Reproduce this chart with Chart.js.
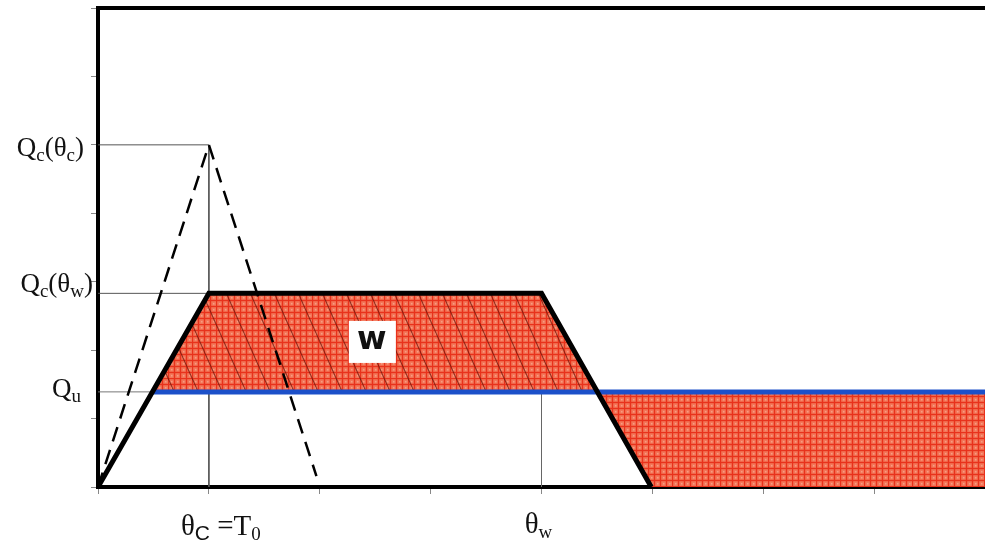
<!DOCTYPE html>
<html>
<head>
<meta charset="utf-8">
<script src="https://cdn.jsdelivr.net/npm/chart.js@4/dist/chart.umd.min.js"></script>
<style>
html,body{margin:0;padding:0;background:#fff;}
#wrap{width:985px;height:544px;}
</style>
</head>
<body>
<div id="wrap"><canvas id="c" width="985" height="544"></canvas></div>
<script>
// ---- data (axis units: x in periods, y in heat-load units) ----
const xRange = [0, 8];
const yRange = [0, 7];
const dashedX = [0, 1, 1.97];
const dashedY = [0, 5, 0.16];
const trapX = [0, 1, 4, 4.99];
const trapY = [0, 2.83, 2.83, 0];
const quLevel = 1.39;
const quX = [0.48, 8];
const upperFillX = [0.49, 1, 4, 4.5];
const upperFillY = [1.39, 2.83, 2.83, 1.39];
const lowerFillX = [4.5, 4.99, 8];
const lowerFillY = [1.39, 0, 0];
const guideA_X = [0, 1, 1];     const guideA_Y = [5, 5, 0];
const guideB_X = [0, 1];        const guideB_Y = [2.83, 2.83];
const guideC_X = [0, 0.48];     const guideC_Y = [1.39, 1.39];
const guideD_X = [4, 4];        const guideD_Y = [2.83, 0];
const yTickValues = [5, 2.83, 1.39];
const yTickLabels = [
  [['Q','m'],['c','s'],['(θ','m'],['c','s'],[')','m']],
  [['Q','m'],['c','s'],['(θ','m'],['w','s'],[')','m']],
  [['Q','m'],['u','s']]
];
const xTickValues = [1, 4];
const xTickLabels = [
  [['θ','xm'],['C','ss'],[' =T','xm'],['0','s']],
  [['θ','xm'],['w','s']]
];
const areaLabel = 'w';
const areaLabelPos = [2.47, 2.12];

function pts(xs, ys) { return xs.map((x, i) => ({x: x, y: ys[i]})); }

// ---- fill pattern ----
function makePattern(hatch) {
  const c = document.createElement('canvas');
  c.width = 24; c.height = 54;
  const g = c.getContext('2d');
  g.fillStyle = '#f37658';
  g.fillRect(0, 0, 24, 54);
  g.fillStyle = '#f89c84';
  for (let x = 0; x < 24; x += 6) for (let y = 0; y < 54; y += 6) g.fillRect(x + 3, y + 3, 1.5, 1.5);
  g.strokeStyle = 'rgb(232,50,28)';
  g.lineWidth = 1.4;
  for (let x = 0; x < 24; x += 6) { g.beginPath(); g.moveTo(x + 0.5, 0); g.lineTo(x + 0.5, 54); g.stroke(); }
  for (let y = 0; y < 54; y += 6) { g.beginPath(); g.moveTo(0, y + 0.5); g.lineTo(24, y + 0.5); g.stroke(); }
  if (hatch) {
    g.strokeStyle = 'rgba(110,20,10,0.75)';
    g.lineWidth = 1.1;
    for (const [ox, oy] of [[0,0],[-24,0],[24,0],[0,-54],[0,54]]) {
      g.beginPath(); g.moveTo(ox, oy); g.lineTo(ox + 24, oy + 54); g.stroke();
    }
  }
  return g.createPattern(c, 'repeat');
}
const patHatch = makePattern(true);
const patPlain = makePattern(false);

// ---- rich text helper ----
const FONTS = {
  m: {font: '27px "Liberation Serif", serif', dy: 0},
  xm: {font: '29px "Liberation Serif", serif', dy: 0},
  s: {font: '19px "Liberation Serif", serif', dy: 5},
  ss: {font: '21px "Liberation Sans", sans-serif', dy: 5}
};
function drawRich(ctx, segs, x, y, align) {
  let total = 0;
  const ws = segs.map(s => { ctx.font = FONTS[s[1]].font; const w = ctx.measureText(s[0]).width; total += w; return w; });
  let cx = align === 'right' ? x - total : (align === 'center' ? x - total / 2 : x);
  segs.forEach((s, i) => {
    ctx.font = FONTS[s[1]].font;
    ctx.fillText(s[0], cx, y + FONTS[s[1]].dy);
    cx += ws[i];
  });
}

const yLabelLayout = [{right: 84, dy: 11}, {right: 93, dy: -1}, {right: 81, dy: 5}];
const xLabelLayout = [{dx: 12, y: 535}, {dx: -3, y: 533}];

const decor = {
  id: 'decor',
  afterDatasetsDraw(chart) {
    const ctx = chart.ctx, a = chart.chartArea;
    const xs = chart.scales.x, ys = chart.scales.y;
    ctx.save();
    // top frame
    ctx.strokeStyle = '#000'; ctx.lineWidth = 4;
    ctx.beginPath(); ctx.moveTo(a.left - 2, a.top); ctx.lineTo(a.right + 2, a.top); ctx.stroke();
    // area label
    const px = xs.getPixelForValue(areaLabelPos[0]), py = ys.getPixelForValue(areaLabelPos[1]);
    ctx.fillStyle = '#fff';
    ctx.fillRect(px - 23, py - 21, 47, 42);
    ctx.fillStyle = '#111';
    ctx.font = 'bold 32px "DejaVu Sans", sans-serif';
    ctx.textAlign = 'center'; ctx.textBaseline = 'middle';
    ctx.fillText(areaLabel, px, py - 1);
    // tick labels
    ctx.textAlign = 'left'; ctx.textBaseline = 'alphabetic';
    ctx.fillStyle = '#111';
    yTickValues.forEach((v, i) => {
      const L = yLabelLayout[i];
      drawRich(ctx, yTickLabels[i], L.right, ys.getPixelForValue(v) + L.dy, 'right');
    });
    xTickValues.forEach((v, i) => {
      const L = xLabelLayout[i];
      drawRich(ctx, xTickLabels[i], xs.getPixelForValue(v) + L.dx, L.y, 'center');
    });
    ctx.restore();
  }
};

const line = (data, color, width, extra) => Object.assign({
  data: data, showLine: true, pointRadius: 0, borderColor: color, borderWidth: width,
  fill: false, tension: 0
}, extra || {});

new Chart(document.getElementById('c'), {
  type: 'scatter',
  data: {
    datasets: [
      line(pts(trapX, trapY), '#000', 5, {borderJoinStyle: 'miter'}),
      line(pts(dashedX, dashedY), '#000', 2.5, {borderDash: [15, 9]}),
      line(pts(quX, [quLevel, quLevel]), '#1c50c9', 5),
      line(pts(upperFillX, upperFillY), 'rgba(0,0,0,0)', 0, {fill: {value: quLevel}, backgroundColor: patHatch}),
      line(pts(lowerFillX, lowerFillY), 'rgba(0,0,0,0)', 0, {fill: {value: quLevel}, backgroundColor: patPlain}),
      line(pts(guideA_X, guideA_Y), '#555', 1),
      line(pts(guideB_X, guideB_Y), '#555', 1),
      line(pts(guideC_X, guideC_Y), '#777', 1),
      line(pts(guideD_X, guideD_Y), '#666', 1)
    ]
  },
  options: {
    responsive: false,
    animation: false,
    devicePixelRatio: 1,
    layout: {padding: {left: 91, top: 8, right: 0, bottom: 50}},
    plugins: {legend: {display: false}, tooltip: {enabled: false}},
    scales: {
      x: {
        type: 'linear', min: xRange[0], max: xRange[1],
        ticks: {stepSize: 1, display: false},
        grid: {drawOnChartArea: false, drawTicks: true, tickLength: 7, color: '#888', lineWidth: 1},
        border: {color: '#000', width: 4}
      },
      y: {
        type: 'linear', min: yRange[0], max: yRange[1],
        ticks: {stepSize: 1, display: false},
        grid: {drawOnChartArea: false, drawTicks: true, tickLength: 7, color: '#888', lineWidth: 1},
        border: {color: '#000', width: 4}
      }
    }
  },
  plugins: [decor]
});
</script>
</body>
</html>
